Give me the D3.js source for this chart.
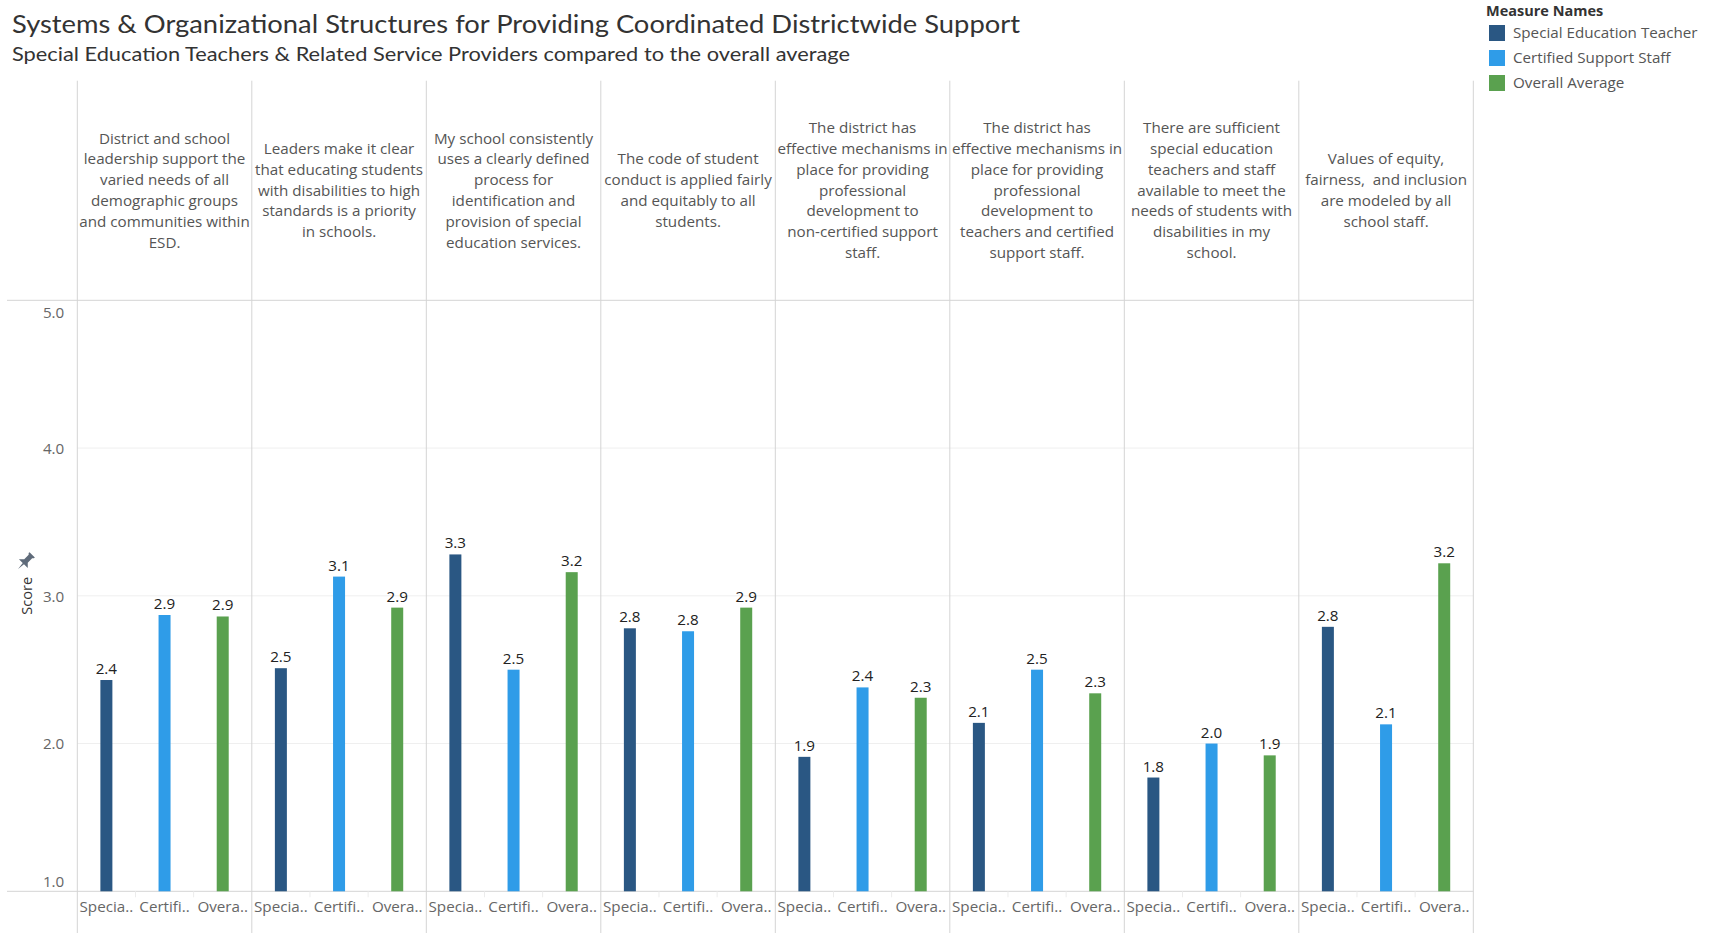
<!DOCTYPE html>
<html>
<head>
<meta charset="utf-8">
<script src="https://cdn.jsdelivr.net/npm/d3@7"></script>
<style>
  html, body { margin: 0; padding: 0; background: #fff; }
  svg { display: block; font-family: "Open Sans", Lato, sans-serif; }
  .header-text { white-space: pre; }
</style>
</head>
<body>
<svg id="chart" width="1715" height="933"></svg>
<script>
// Survey statements (one panel each), wrapped as drawn in the header row
const questions = [
  ["District and school", "leadership support the", "varied needs of all", "demographic groups", "and communities within", "ESD."],
  ["Leaders make it clear", "that educating students", "with disabilities to high", "standards is a priority", "in schools."],
  ["My school consistently", "uses a clearly defined", "process for", "identification and", "provision of special", "education services."],
  ["The code of student", "conduct is applied fairly", "and equitably to all", "students."],
  ["The district has", "effective mechanisms in", "place for providing", "professional", "development to", "non-certified support", "staff."],
  ["The district has", "effective mechanisms in", "place for providing", "professional", "development to", "teachers and certified", "support staff."],
  ["There are sufficient", "special education", "teachers and staff", "available to meet the", "needs of students with", "disabilities in my", "school."],
  ["Values of equity,", "fairness,  and inclusion", "are modeled by all", "school staff."]
];

const measures = ["Special Education Teacher", "Certified Support Staff", "Overall Average"];
const measureTickLabels = ["Specia..", "Certifi..", "Overa.."];

// Mean score per statement
const specialEducationTeacher = [2.43, 2.51, 3.28, 2.78, 1.91, 2.14, 1.77, 2.79];
const certifiedSupportStaff   = [2.87, 3.13, 2.50, 2.76, 2.38, 2.50, 2.00, 2.13];
const overallAverage          = [2.86, 2.92, 3.16, 2.92, 2.31, 2.34, 1.92, 3.22];

const scoreTicks = [1, 2, 3, 4, 5];

const colors = ["#2a5783", "#2f9ce8", "#5aa14f"];

const seriesValues = [specialEducationTeacher, certifiedSupportStaff, overallAverage];
const rows = questions.map((q, i) => ({
  index: i,
  lines: q,
  values: measures.map((m, k) => ({ measure: m, value: seriesValues[k][i] }))
}));

const svg = d3.select("#chart");
const font = "'Open Sans', Lato, sans-serif";
const fs = 15.2;

// Layout
const plotLeft = 77.3, plotRight = 1473.3;
const headerTop = 80.7, plotTop = 300.3, plotBottom = 891.3, viewBottom = 933;
const barWidth = 12;
const lineColor = "#d4d4d4";

const xPanel = d3.scaleBand().domain(d3.range(questions.length)).range([plotLeft, plotRight]).padding(0);
const xInner = d3.scaleBand().domain(measures).range([0, xPanel.bandwidth()]).padding(0);
const y = d3.scaleLinear().domain([1, 5]).range([plotBottom, plotTop]);
const color = d3.scaleOrdinal().domain(measures).range(colors);

// Title and subtitle
svg.append("text")
  .attr("x", 12).attr("y", 33)
  .attr("font-family", "Lato, sans-serif")
  .attr("font-size", 25).attr("fill", "#333")
  .attr("textLength", 1008).attr("lengthAdjust", "spacingAndGlyphs")
  .text("Systems & Organizational Structures for Providing Coordinated Districtwide Support");

svg.append("text")
  .attr("x", 12).attr("y", 61)
  .attr("font-family", "Lato, sans-serif")
  .attr("font-size", 19).attr("fill", "#333")
  .attr("textLength", 838).attr("lengthAdjust", "spacingAndGlyphs")
  .text("Special Education Teachers & Related Service Providers compared to the overall average");

// Legend
const legend = svg.append("g").attr("transform", "translate(1486,0)");
legend.append("text")
  .attr("x", 0).attr("y", 16)
  .attr("font-size", 14.5).attr("font-weight", "bold").attr("fill", "#333")
  .text("Measure Names");
const legendItem = legend.selectAll("g.item").data(measures).join("g")
  .attr("class", "item")
  .attr("transform", (d, i) => `translate(0,${25 + i * 25})`);
legendItem.append("rect")
  .attr("x", 3).attr("y", 0).attr("width", 16).attr("height", 16)
  .attr("fill", d => color(d));
legendItem.append("text")
  .attr("x", 27).attr("y", 13)
  .attr("font-size", fs).attr("fill", "#555")
  .text(d => d);

// Gridlines
svg.append("g").selectAll("line").data(scoreTicks.filter(t => t > 1 && t < 5)).join("line")
  .attr("x1", plotLeft).attr("x2", plotRight)
  .attr("y1", d => y(d)).attr("y2", d => y(d))
  .attr("stroke", "#efefef").attr("stroke-width", 1);

// Header separator and baseline
svg.append("line")
  .attr("x1", 7).attr("x2", plotRight).attr("y1", plotTop).attr("y2", plotTop)
  .attr("stroke", lineColor);
svg.append("line")
  .attr("x1", 7).attr("x2", plotRight).attr("y1", plotBottom).attr("y2", plotBottom)
  .attr("stroke", lineColor);

// Panel dividers
const dividers = d3.range(questions.length).map(i => xPanel(i)).concat([plotRight]);
svg.append("g").selectAll("line").data(dividers).join("line")
  .attr("x1", d => d).attr("x2", d => d)
  .attr("y1", headerTop).attr("y2", viewBottom)
  .attr("stroke", lineColor).attr("stroke-width", 1);

// Y axis
const yAxis = svg.append("g")
  .attr("transform", `translate(${plotLeft - 10},0)`)
  .call(d3.axisLeft(y).tickValues(scoreTicks).tickSize(0).tickFormat(d3.format(".1f")));
yAxis.select(".domain").remove();
yAxis.selectAll("text")
  .attr("font-family", font)
  .attr("font-size", fs).attr("fill", "#666")
  .attr("dy", d => d === 5 ? "1.1em" : d === 1 ? "-0.3em" : "0.35em");

// Y axis title with pin
svg.append("text")
  .attr("transform", `translate(32,${(plotTop + plotBottom) / 2}) rotate(-90)`)
  .attr("text-anchor", "middle")
  .attr("font-size", 14.5).attr("fill", "#333")
  .text("Score");
svg.append("path")
  .attr("transform", "translate(26,561) rotate(45) scale(1.25)")
  .attr("d", "M-3,-7 L3,-7 L3,-6 L2,-5 L2,0 L5,3 L-5,3 L-2,0 L-2,-5 L-3,-6 Z M-0.7,3 L0.7,3 L0,9 Z")
  .attr("fill", "#5f6b7a");

// Panels
const panel = svg.append("g").selectAll("g.panel").data(rows).join("g")
  .attr("class", "panel")
  .attr("transform", d => `translate(${xPanel(d.index)},0)`);

// Header text, vertically centred in the header row
const lineHeight = 20.8;
const headerMid = (headerTop + plotTop) / 2;
panel.append("text")
  .attr("class", "header-text")
  .attr("text-anchor", "middle")
  .attr("font-size", fs).attr("fill", "#555")
  .each(function (d) {
    const t = d3.select(this);
    const n = d.lines.length;
    d.lines.forEach((ln, j) => {
      t.append("tspan")
        .attr("x", xPanel.bandwidth() / 2)
        .attr("y", headerMid + (j - (n - 1) / 2) * lineHeight + 5)
        .text(ln);
    });
  });

// Bars
panel.selectAll("rect.bar").data(d => d.values).join("rect")
  .attr("class", "bar")
  .attr("x", d => xInner(d.measure) + xInner.bandwidth() / 2 - barWidth / 2)
  .attr("width", barWidth)
  .attr("y", d => y(d.value))
  .attr("height", d => y(1) - y(d.value))
  .attr("fill", d => color(d.measure));

// Value labels
panel.selectAll("text.value").data(d => d.values).join("text")
  .attr("class", "value")
  .attr("x", d => xInner(d.measure) + xInner.bandwidth() / 2)
  .attr("y", d => y(d.value) - 6)
  .attr("text-anchor", "middle")
  .attr("font-size", fs).attr("fill", "#222")
  .text(d => d3.format(".1f")(d.value));

// Bottom axis per panel
panel.append("g")
  .attr("transform", `translate(0,${plotBottom})`)
  .each(function () {
    const g = d3.select(this)
      .call(d3.axisBottom(xInner).tickSize(0).tickFormat((d, i) => measureTickLabels[i]));
    g.select(".domain").remove();
    g.selectAll("text")
      .attr("font-family", font)
      .attr("font-size", fs).attr("fill", "#666")
      .attr("dy", "1.15em");
  });

// Faint separators between measure labels
panel.selectAll("line.sep").data(measures.slice(1)).join("line")
  .attr("class", "sep")
  .attr("x1", d => xInner(d)).attr("x2", d => xInner(d))
  .attr("y1", plotBottom).attr("y2", plotBottom + 6)
  .attr("stroke", "#ececec");
</script>
</body>
</html>
